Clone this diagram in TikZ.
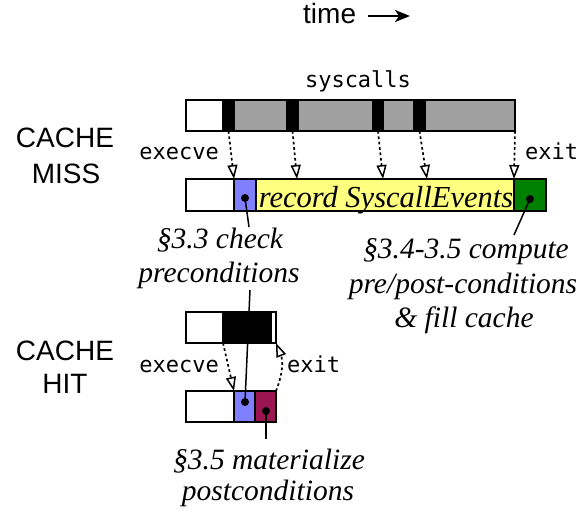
\documentclass[tikz,border=0pt]{standalone}
\usepackage{fontspec}
\setmainfont{Liberation Serif}
\setsansfont{Liberation Sans}
\setmonofont{DejaVu Sans Mono}
\usetikzlibrary{arrows.meta,calc}
\definecolor{grayseg}{HTML}{A0A0A0}
\definecolor{blueseg}{HTML}{8080FF}
\definecolor{yellowseg}{HTML}{FFFF80}
\definecolor{greenseg}{HTML}{008000}
\definecolor{purpleseg}{HTML}{9B1650}
\begin{document}
\begin{tikzpicture}[x=1pt,y=-1pt,
 seg/.style={draw=black, line width=1.6pt, inner sep=0pt, outer sep=0pt, anchor=north west},
 flow/.style={line width=1.7pt, dash pattern=on 2.7pt off 2.7pt, -{Triangle[open,length=14pt,width=10pt,line width=1.5pt]}},
 lead/.style={line width=1.5pt},
 pin/.style={circle, fill=black, inner sep=0pt, minimum size=8pt},
 caselbl/.style={font=\sffamily\fontsize{28}{28}\selectfont, anchor=base, inner sep=0pt},
 codelbl/.style={font=\ttfamily\fontsize{22}{22}\selectfont, anchor=base, inner sep=0pt},
 note/.style={font=\itshape\fontsize{29.5}{29.5}\selectfont, anchor=base, inner sep=0pt}]
\useasboundingbox (0,0) rectangle (582,512);

% title
\node[caselbl, anchor=base west] (time) at (303,23) {time};
\coordinate (tarrowA) at (368,16);
\coordinate (tarrowB) at (410,16);
\draw[line width=2pt, -{Stealth[length=15pt,width=12pt,inset=4pt]}] (tarrowA) -- (tarrowB);

% ---- CACHE MISS ----
\node[caselbl] (miss1) at (65,147) {CACHE};
\node[caselbl] (miss2) at (66,183) {MISS};
\node[codelbl] (sys) at (358,87) {syscalls};

% top bar
\node[seg, fill=white,   minimum width=37pt, minimum height=31pt] (mw)  at (186,100) {};
\node[seg, fill=black,   minimum width=11pt, minimum height=31pt] (mb1) at (223,100) {};
\node[seg, fill=grayseg, minimum width=53pt, minimum height=31pt] (mg1) at (234,100) {};
\node[seg, fill=black,   minimum width=11pt, minimum height=31pt] (mb2) at (287,100) {};
\node[seg, fill=grayseg, minimum width=75pt, minimum height=31pt] (mg2) at (298,100) {};
\node[seg, fill=black,   minimum width=10pt, minimum height=31pt] (mb3) at (373,100) {};
\node[seg, fill=grayseg, minimum width=31pt, minimum height=31pt] (mg3) at (383,100) {};
\node[seg, fill=black,   minimum width=11pt, minimum height=31pt] (mb4) at (414,100) {};
\node[seg, fill=grayseg, minimum width=90pt, minimum height=31pt] (mg4) at (425,100) {};

% bottom bar
\node[seg, fill=white,     minimum width=48pt,  minimum height=32pt] (nw)     at (186,179) {};
\node[seg, fill=blueseg,   minimum width=22pt,  minimum height=32pt] (nblue)  at (234,179) {};
\node[seg, fill=yellowseg, minimum width=258pt, minimum height=32pt] (nyel)   at (256,179) {};
\node[seg, fill=greenseg,  minimum width=32pt,  minimum height=32pt] (ngreen) at (514,179) {};
\node[note, font=\itshape\fontsize{30.5}{30.5}\selectfont] (rec) at (386,207) {record SyscallEvents};

\node[codelbl, anchor=base east] (mexecve) at (219,159) {execve};
\node[codelbl, anchor=base west] (mexit) at (525,159) {exit};

\draw[flow] (mb1.south) -- (nblue.north west);
\draw[flow] (mb2.south) -- ($(nyel.north west)+(41,0)$);
\draw[flow] (mb3.south) -- ($(nyel.north west)+(127,0)$);
\draw[flow] (mb4.south) -- ($(nyel.north west)+(171,0)$);
\draw[flow] (mg4.south east) -- (ngreen.north west);

% notes for miss
\node[note] (pre1) at (220,248) {§3.3 check};
\node[note] (pre2) at (219,282) {preconditions};
\node[note] (cmp1) at (466,258) {§3.4-3.5 compute};
\node[note] (cmp2) at (463,293) {pre/post-conditions};
\node[note] (cmp3) at (464,327) {\& fill cache};

\node[pin] (d1) at (245,198) {};
\node[pin] (d2) at (530,199) {};
\coordinate (d1end) at (249,227);
\coordinate (d2end) at (514,235);
\draw[lead] (d1.center) -- (d1end);
\draw[lead] (d2.center) -- (d2end);

% ---- CACHE HIT ----
\node[caselbl] (hit1) at (65,360) {CACHE};
\node[caselbl] (hit2) at (65,393) {HIT};

\node[seg, fill=white, minimum width=37pt, minimum height=31pt] (hw)  at (186,312) {};
\node[seg, fill=black, minimum width=48pt, minimum height=31pt] (hb)  at (223,312) {};
\node[seg, fill=white, minimum width=5pt,  minimum height=31pt] (hw2) at (271,312) {};

\node[seg, fill=white,      minimum width=48pt, minimum height=31pt] (hw3)   at (186,391) {};
\node[seg, fill=blueseg,    minimum width=21pt, minimum height=31pt] (hblue) at (234,391) {};
\node[seg, fill=purpleseg,  minimum width=21pt, minimum height=31pt] (hpur)  at (255,391) {};

\node[codelbl, anchor=base east] (hexecve) at (219,372) {execve};
\node[codelbl, anchor=base west] (hexit) at (287,372) {exit};

\draw[flow] (hw.south east) -- (hblue.north west);
\draw[flow] (hpur.north east) to[bend right=22] (hw2.south east);

\node[pin] (d3) at (245,402) {};
\node[pin] (d4) at (266,411) {};
\coordinate (d3start) at (250,290);
\coordinate (d4end) at (266,439);
\draw[lead] (d3start) -- (d3.center);
\draw[lead] (d4.center) -- (d4end);

\node[note] (mat1) at (269,469) {§3.5 materialize};
\node[note] (mat2) at (268,500) {postconditions};
\end{tikzpicture}
\end{document}
